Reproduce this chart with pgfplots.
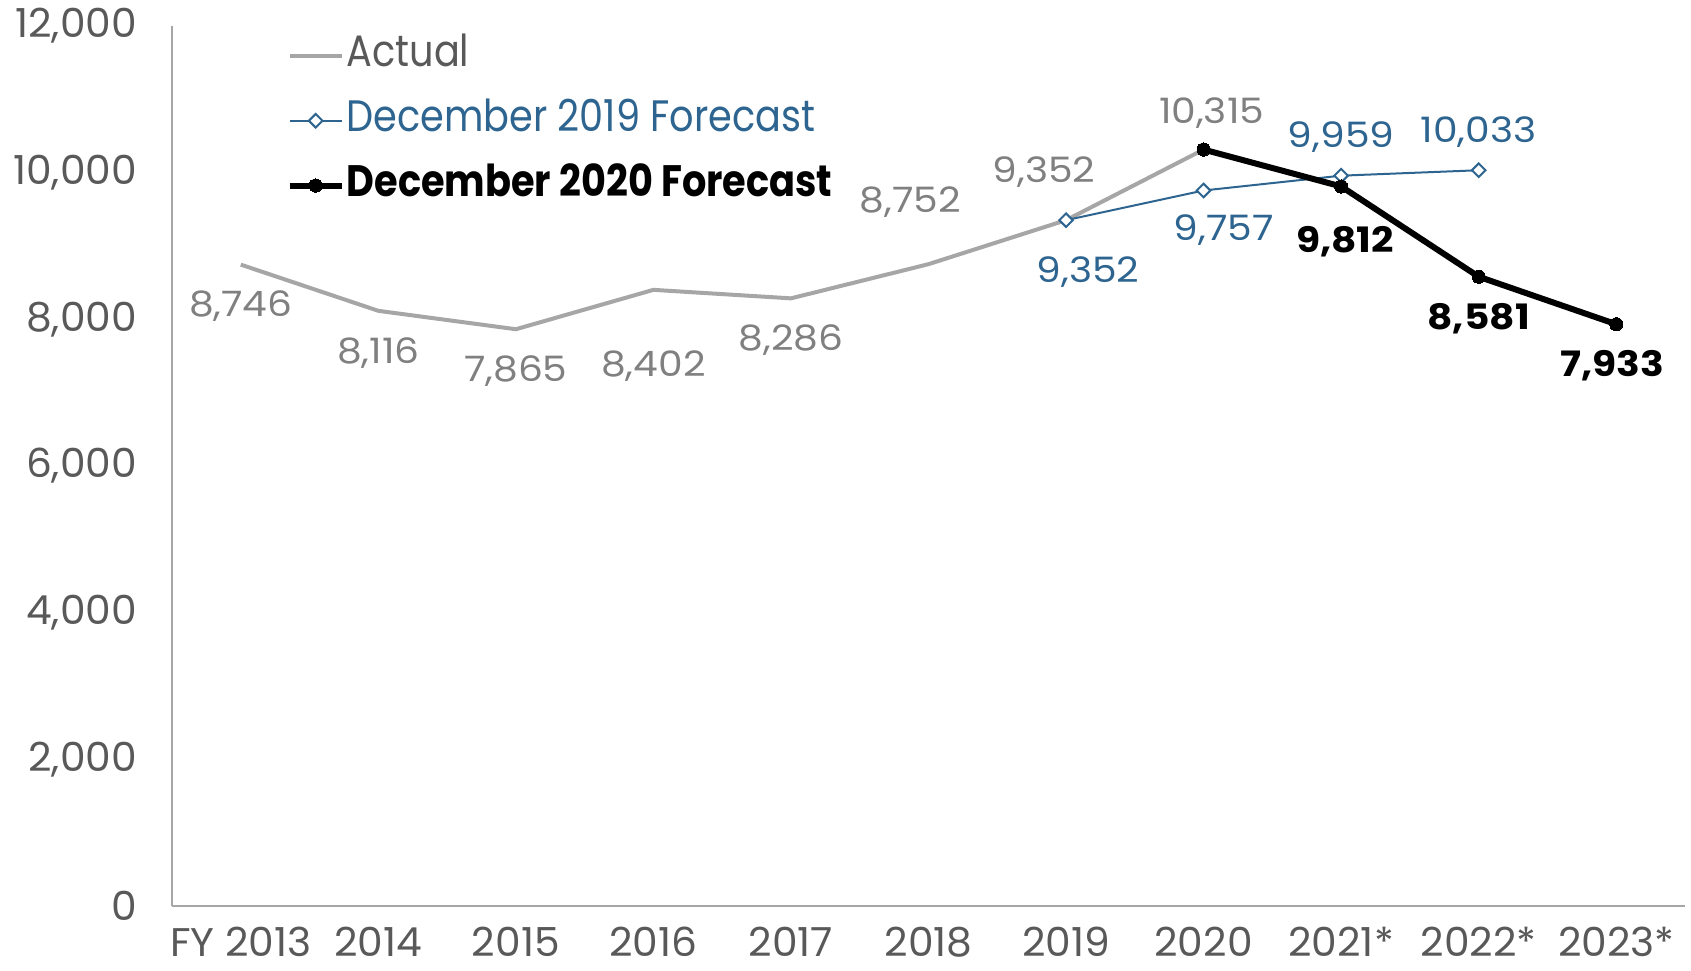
\documentclass[border=0pt]{standalone}
\usepackage{pgfplots}
\pgfplotsset{compat=1.18}
\usepackage{fontspec}
\setmainfont{Poppins}[FakeStretch=0.87]
\newfontfamily\tickfont{Poppins}[FakeStretch=1.02]
\newfontfamily\labfont{Poppins}[FakeStretch=1.12]
\definecolor{actline}{HTML}{A6A6A6}
\definecolor{actlab}{HTML}{808080}
\definecolor{ticktxt}{HTML}{595959}
\definecolor{blueA}{HTML}{2E6590}
\tikzset{lab/.style={font=\labfont\fontsize{17.5}{19}\selectfont, inner sep=0pt, anchor=center}}
\begin{document}
\begin{tikzpicture}
\useasboundingbox (0,0) rectangle (845.5pt,485pt);
\begin{axis}[
  at={(86pt,32pt)}, anchor=south west,
  scale only axis, width=756.5pt, height=440pt,
  xmin=-0.5, xmax=10.5, ymin=0, ymax=12000,
  axis x line*=bottom, axis y line*=left,
  axis line style={actline, line width=1pt},
  xtick={0,...,10},
  xticklabels={FY 2013,2014,2015,2016,2017,2018,2019,2020,2021*,2022*,2023*},
  ytick={0,2000,...,12000},
  major tick length=0pt,
  scaled y ticks=false,
  /pgf/number format/assume math mode=true,
  /pgf/number format/1000 sep={,},
  tick label style={text=ticktxt},
  yticklabel style={font=\tickfont\fontsize{20}{22}\selectfont, xshift=-14pt},
  xticklabel style={font=\tickfont\fontsize{20}{22}\selectfont, yshift=-10.5pt, text depth=0pt, inner ysep=0pt, anchor=north},
  legend cell align=left,
  legend style={at={(0.0755,0.988)}, anchor=north west, draw=none, fill=none,
    inner sep=0pt, row sep=13.4pt,
    nodes={inner xsep=1pt, inner ysep=0pt, text height=15pt, text depth=4pt},
    font=\fontsize{22}{24}\selectfont},
  legend image code/.code={\draw[mark repeat=2,mark phase=2,#1] plot coordinates {(0pt,0pt)(13pt,0pt)(26pt,0pt)};},
]
\addplot[actline, line width=2pt, no markers] coordinates {(0,8746)(1,8116)(2,7865)(3,8402)(4,8286)(5,8752)(6,9352)(7,10315)};
\addlegendentry{\textcolor{ticktxt}{Actual}}
\addplot[blueA, line width=1pt, mark=square*, mark size=2.4pt, mark options={fill=white, rotate=45, line width=1pt}] coordinates {(6,9352)(7,9757)(8,9959)(9,10033)};
\addlegendentry{\textcolor{blueA}{December 2019 Forecast}}
\addplot[black, line width=3pt, mark=*, mark size=3.3pt, mark options={line width=0pt}] coordinates {(7,10315)(8,9812)(9,8581)(10,7933)};
\addlegendentry{\textbf{December 2020 Forecast}}
% Actual labels
\node[lab, text=actlab, yshift=-20.5pt] at (axis cs:0,8746) {8,746};
\node[lab, text=actlab, yshift=-21pt] at (axis cs:1,8116) {8,116};
\node[lab, text=actlab, yshift=-21pt] at (axis cs:2,7865) {7,865};
\node[lab, text=actlab, yshift=-38pt] at (axis cs:3,8402) {8,402};
\node[lab, text=actlab, yshift=-20.7pt] at (axis cs:4,8286) {8,286};
\node[lab, text=actlab, xshift=-9pt, yshift=31pt] at (axis cs:5,8752) {8,752};
\node[lab, text=actlab, xshift=-11pt, yshift=24pt] at (axis cs:6,9352) {9,352};
\node[lab, text=actlab, xshift=4pt, yshift=18pt] at (axis cs:7,10315) {10,315};
% Dec 2019 labels
\node[lab, text=blueA, xshift=11pt, yshift=-26pt] at (axis cs:6,9352) {9,352};
\node[lab, text=blueA, xshift=10pt, yshift=-20pt] at (axis cs:7,9757) {9,757};
\node[lab, text=blueA, yshift=19.4pt] at (axis cs:8,9959) {9,959};
\node[lab, text=blueA, yshift=19pt] at (axis cs:9,10033) {10,033};
% Dec 2020 labels
\node[lab, text=black, font=\labfont\fontsize{17.5}{19}\selectfont\bfseries, xshift=2pt, yshift=-27.5pt] at (axis cs:8,9812) {9,812};
\node[lab, text=black, font=\labfont\fontsize{17.5}{19}\selectfont\bfseries, yshift=-21pt] at (axis cs:9,8581) {8,581};
\node[lab, text=black, font=\labfont\fontsize{17.5}{19}\selectfont\bfseries, xshift=-2pt, yshift=-20.7pt] at (axis cs:10,7933) {7,933};
\end{axis}
\end{tikzpicture}
\end{document}
